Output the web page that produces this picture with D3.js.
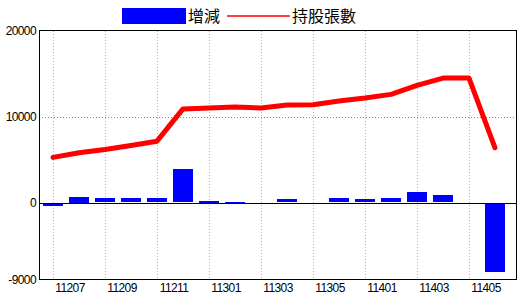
<!DOCTYPE html>
<html lang="zh-Hant">
<head>
<meta charset="UTF-8">
<title>持股張數</title>
<script src="https://cdn.jsdelivr.net/npm/d3@7"></script>
<style>
  body { margin: 0; background: #fff; }
  svg { display: block; }
  .tick-label { font-family: "Liberation Sans", Arial, sans-serif; font-size: 12px; letter-spacing: -0.6px; fill: #000; }
  .legend-label { font-family: "Noto Sans CJK TC", sans-serif; font-size: 16px; fill: #000; }
</style>
</head>
<body>
<svg id="chart" width="520" height="300"></svg>
<script>
// months (every other one is labelled)
const months = ["11206", "11207", "11208", "11209", "11210", "11211", "11212", "11301", "11302",
                "11303", "11304", "11305", "11312", "11401", "11402", "11403", "11404", "11405"];
// 增減
const change = [-300, 660, 500, 500, 500, 3880, 190, 120, 0,
                390, 0, 500, 390, 500, 1200, 850, 0, -8060];
// 持股張數
const holding = [5280, 5830, 6210, 6670, 7170, 10930, 11040, 11160, 11040,
                 11390, 11420, 11850, 12200, 12620, 13660, 14520, 14520, 6400];
const yTicks = [-9000, 0, 10000, 20000];
const seriesNames = ["增減", "持股張數"];

const svg = d3.select("#chart");
const plotLeft = 39, plotRight = 516, plotTop = 31, plotBottom = 280;

const x = d3.scaleBand().domain(months).range([40, 508]).paddingInner(0).paddingOuter(0);
const y = d3.scaleLinear().domain([-9000, 20000]).range([plotBottom, plotTop]);

// vertical grid on unlabelled months
svg.append("g")
  .selectAll("line")
  .data(months.filter((d, i) => i % 2 === 0))
  .join("line")
    .attr("x1", d => Math.round(x(d) + x.bandwidth() / 2) + 0.5)
    .attr("x2", d => Math.round(x(d) + x.bandwidth() / 2) + 0.5)
    .attr("y1", plotTop)
    .attr("y2", plotBottom)
    .style("stroke", "#9fb8cc")
    .style("stroke-width", 1)
    .style("stroke-dasharray", "1,2");

// horizontal grid
svg.append("g")
  .selectAll("line")
  .data(yTicks.filter(d => d !== 0 && d !== 20000 && d !== -9000))
  .join("line")
    .attr("x1", plotLeft)
    .attr("x2", plotRight)
    .attr("y1", d => Math.round(y(d)) + 0.5)
    .attr("y2", d => Math.round(y(d)) + 0.5)
    .style("stroke", "#888")
    .style("stroke-dasharray", "1,2");

// bars
svg.append("g")
  .selectAll("rect")
  .data(change)
  .join("rect")
    .attr("x", (d, i) => Math.round(x(months[i]) + 3))
    .attr("width", 20)
    .attr("y", d => Math.round(y(Math.max(d, 0))))
    .attr("height", d => Math.round(Math.abs(y(d) - y(0))))
    .attr("fill", "#0000ff")
    .attr("shape-rendering", "crispEdges");

// zero line
svg.append("line")
  .attr("x1", plotLeft).attr("x2", plotRight)
  .attr("y1", Math.round(y(0)) + 0.5).attr("y2", Math.round(y(0)) + 0.5)
  .style("stroke", "#000");

// holding line
const line = d3.line()
  .x((d, i) => x(months[i]) + x.bandwidth() / 2)
  .y(d => y(d));

svg.append("path")
  .datum(holding)
  .attr("d", line)
  .style("fill", "none")
  .style("stroke", "#ff0000")
  .style("stroke-width", 5)
  .style("stroke-linejoin", "round")
  .style("stroke-linecap", "round");

// frame
svg.append("rect")
  .attr("x", plotLeft + 0.5).attr("y", plotTop - 0.5)
  .attr("width", plotRight - plotLeft).attr("height", plotBottom - plotTop)
  .style("fill", "none")
  .style("stroke", "#000")
  .attr("shape-rendering", "crispEdges");

// y labels
svg.append("g")
  .selectAll("text")
  .data(yTicks)
  .join("text")
    .attr("class", "tick-label")
    .attr("x", 36)
    .attr("y", d => y(d) + 4)
    .attr("text-anchor", "end")
    .text(d => d);

// x labels
svg.append("g")
  .selectAll("text")
  .data(months.filter((d, i) => i % 2 === 1))
  .join("text")
    .attr("class", "tick-label")
    .attr("x", d => x(d) + x.bandwidth() / 2 - 9)
    .attr("y", 292)
    .attr("text-anchor", "middle")
    .text(d => d);

// legend
svg.append("rect")
  .attr("x", 122).attr("y", 8).attr("width", 64).attr("height", 16)
  .attr("fill", "#0000ff");
svg.append("text")
  .attr("class", "legend-label")
  .attr("x", 188).attr("y", 22)
  .text(seriesNames[0]);
svg.append("line")
  .attr("x1", 227).attr("x2", 290).attr("y1", 16).attr("y2", 16)
  .style("stroke", "#ff0000").style("stroke-width", 1.5);
svg.append("text")
  .attr("class", "legend-label")
  .attr("x", 292).attr("y", 22)
  .text(seriesNames[1]);
</script>
</body>
</html>
